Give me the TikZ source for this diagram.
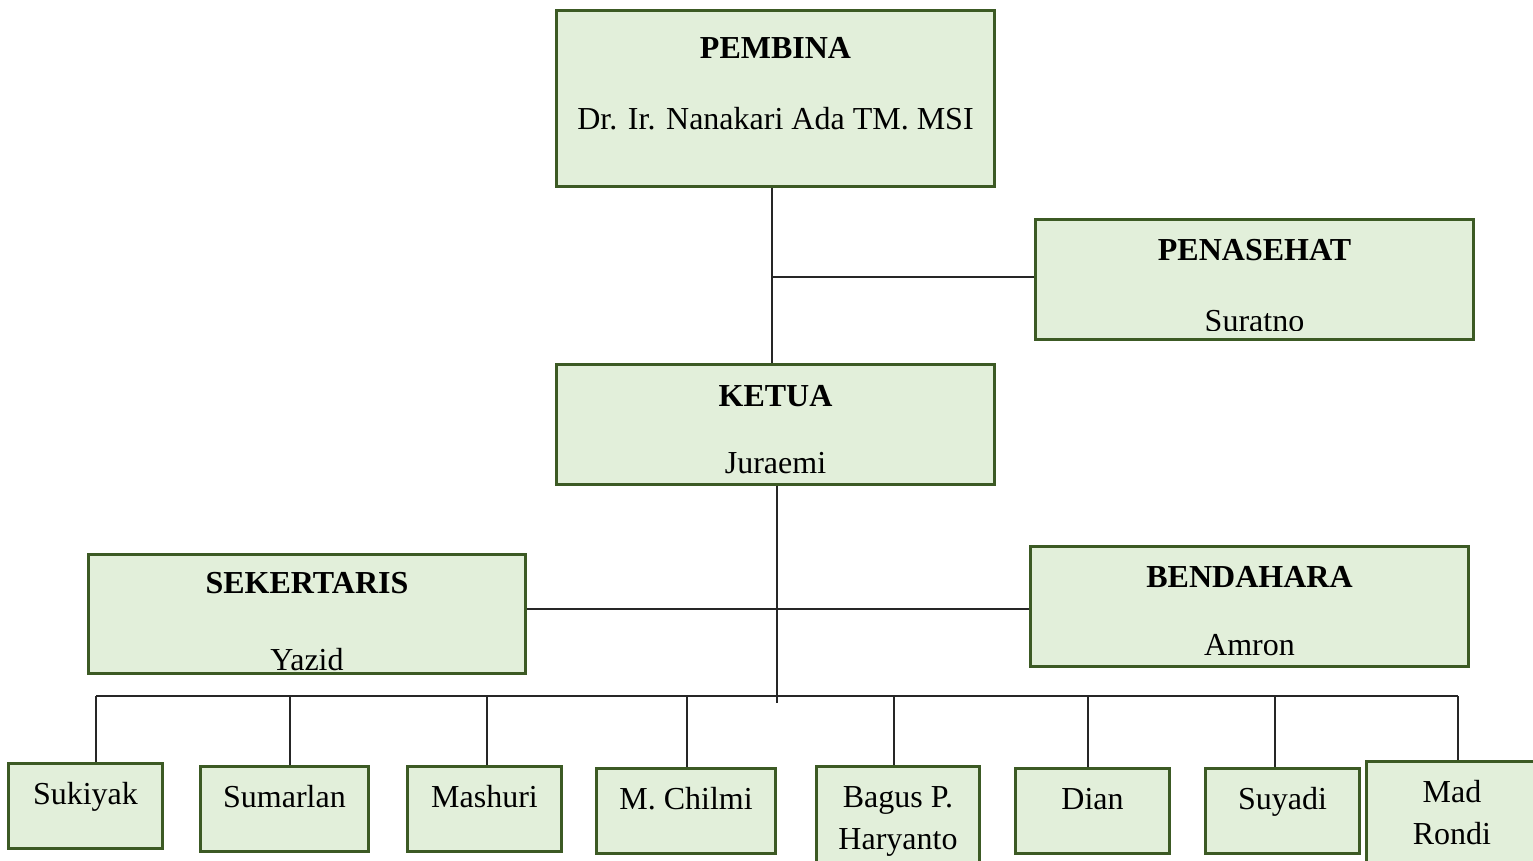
\documentclass[tikz,border=0pt]{standalone}
\usepackage{fontspec}
\setmainfont{Liberation Serif}

\definecolor{hijauTua}{RGB}{60,90,36}
\definecolor{hijauMuda}{RGB}{226,239,218}

\tikzset{
  kotak/.style={draw=hijauTua, fill=hijauMuda, line width=0.85pt, inner sep=0pt},
  garis/.style={black!85, line width=0.5pt},
  judul/.style={anchor=base, font=\bfseries},
  nama/.style={anchor=base},
}

\begin{document}
\fontsize{9.1pt}{11pt}\selectfont
\begin{tikzpicture}[x=0.01cm, y=-0.01cm]

  \useasboundingbox (0,0) rectangle (1533,860);

  % --- Pembina ---
  \node[kotak, minimum width=4.37cm, minimum height=1.75cm] (pembina) at (775.5,98.5) {};
  \node[judul] (pembinaJ) at (775.5,58)  {PEMBINA};
  \node[nama]  (pembinaN) at (775.5,129) {Dr. Ir. Nanakari Ada TM. MSI};

  % --- Penasehat ---
  \node[kotak, minimum width=4.37cm, minimum height=1.19cm] (penasehat) at (1254.5,279.5) {};
  \node[judul] (penasehatJ) at (1254.5,260) {PENASEHAT};
  \begin{scope}
    \clip (penasehat.north west) rectangle ([yshift=0.1cm]penasehat.south east);
    \node[nama] (penasehatN) at (1254.5,331) {Suratno};
  \end{scope}

  % --- Ketua ---
  \node[kotak, minimum width=4.37cm, minimum height=1.19cm] (ketua) at (775.5,424.5) {};
  \node[judul] (ketuaJ) at (775.5,406) {KETUA};
  \node[nama]  (ketuaN) at (775.5,473) {Juraemi};

  % --- Sekertaris ---
  \node[kotak, minimum width=4.36cm, minimum height=1.18cm] (sekertaris) at (307,614) {};
  \node[judul] (sekertarisJ) at (307,593) {SEKERTARIS};
  \begin{scope}
    \clip (sekertaris.north west) rectangle ([yshift=0.04cm]sekertaris.south east);
    \node[nama] (sekertarisN) at (307,670) {Yazid};
  \end{scope}

  % --- Bendahara ---
  \node[kotak, minimum width=4.37cm, minimum height=1.19cm] (bendahara) at (1249.5,606.5) {};
  \node[judul] (bendaharaJ) at (1249.5,587) {BENDAHARA};
  \node[nama]  (bendaharaN) at (1249.5,655) {Amron};

  % --- Anggota (satu baris) ---
  \foreach \n/\cx/\cy/\w/\teks in {sukiyak/85.5/806/1.53/Sukiyak,
      sumarlan/284.5/809/1.67/Sumarlan, mashuri/484.5/809/1.53/Mashuri,
      chilmi/686/811/1.78/M. Chilmi, dian/1092.5/811/1.53/Dian,
      suyadi/1282.5/811/1.53/Suyadi} {
    \node[kotak, minimum width=\w cm, minimum height=0.84cm] (\n) at (\cx,\cy) {};
    \node[nama] (\n-t) at (\cx,\cy-2) {\teks};
  }

  % --- Anggota (dua baris) ---
  \node[kotak, minimum width=1.62cm, minimum height=1.13cm] (bagus) at (898,823.5) {};
  \node[nama] (bagus-t1) at (898,807) {Bagus P.};
  \node[nama] (bagus-t2) at (898,849) {Haryanto};
  \node[kotak, minimum width=1.70cm, minimum height=1.18cm] (mad) at (1452,821) {};
  \node[nama] (mad-t1) at (1452,802) {Mad};
  \node[nama] (mad-t2) at (1452,844) {Rondi};

  % --- Garis pembina - ketua - penasehat ---
  \coordinate (poros) at (772,277);
  \draw[garis] (pembina.south -| poros) -- (ketua.north -| poros);
  \draw[garis] (poros) -- (penasehat.west |- poros);

  % --- Garis ketua ke bawah ---
  \coordinate (ujung) at (777,703);
  \coordinate (tengah) at (777,609);
  \draw[garis] (ketua.south -| ujung) -- (ujung);
  \draw[garis] (sekertaris.east |- tengah) -- (bendahara.west |- tengah);

  % --- Garis anggota ---
  \coordinate (busKiri) at (96,696);
  \coordinate (busKanan) at (1458,696);
  \draw[garis] (busKiri) -- (busKanan);
  \foreach \n/\x in {sukiyak/96, sumarlan/290, mashuri/487, chilmi/687,
      bagus/894, dian/1088, suyadi/1275, mad/1458} {
    \coordinate (atas-\n) at (\x,696);
    \draw[garis] (atas-\n) -- (atas-\n |- \n.north);
  }

\end{tikzpicture}
\end{document}
